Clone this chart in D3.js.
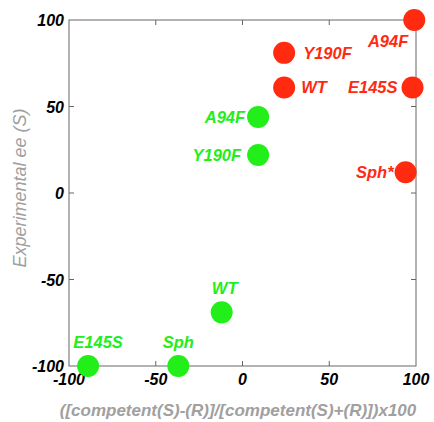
<!DOCTYPE html>
<html>
<head>
<meta charset="utf-8">
<script src="https://d3js.org/d3.v7.min.js"></script>
<style>
  body { margin: 0; background: #fff; }
  text { font-family: "Liberation Sans", Arial, sans-serif; }
</style>
</head>
<body>
<svg width="434" height="422"></svg>
<script>
// data
var redLabels = ["A94F", "Y190F", "WT", "E145S", "Sph*"];
var redX = [99, 24, 24, 98, 94];
var redY = [100, 81, 61, 61, 12];

var greenLabels = ["A94F", "Y190F", "WT", "Sph", "E145S"];
var greenX = [9, 9, -12, -37, -89];
var greenY = [44, 22, -69, -100, -100];

var tickVals = [-100, -50, 0, 50, 100];

var svg = d3.select("svg"),
    pLeft = 69, pRight = 416, pTop = 20, pBottom = 366;

var x = d3.scaleLinear().domain([-100, 100]).range([pLeft, pRight]);
var y = d3.scaleLinear().domain([-100, 100]).range([pBottom, pTop]);

// frame
svg.append("rect")
   .attr("x", pLeft).attr("y", pTop)
   .attr("width", pRight - pLeft).attr("height", pBottom - pTop)
   .attr("fill", "none").attr("stroke", "#666").attr("stroke-width", 1);

// inward ticks on all four sides
var inner = [-50, 0, 50];
inner.forEach(function(v) {
  svg.append("line").attr("x1", x(v)).attr("x2", x(v)).attr("y1", pBottom).attr("y2", pBottom - 5).attr("stroke", "#666");
  svg.append("line").attr("x1", x(v)).attr("x2", x(v)).attr("y1", pTop).attr("y2", pTop + 5).attr("stroke", "#666");
  svg.append("line").attr("y1", y(v)).attr("y2", y(v)).attr("x1", pLeft).attr("x2", pLeft + 5).attr("stroke", "#666");
  svg.append("line").attr("y1", y(v)).attr("y2", y(v)).attr("x1", pRight).attr("x2", pRight - 5).attr("stroke", "#666");
});

// tick labels
svg.selectAll(".xt").data(tickVals).enter().append("text")
   .attr("x", function(d) { return x(d); })
   .attr("y", pBottom + 19)
   .attr("text-anchor", "middle")
   .attr("font-size", "16px").attr("font-weight", "bold").attr("font-style", "italic")
   .text(function(d) { return d; });

svg.selectAll(".yt").data(tickVals).enter().append("text")
   .attr("x", pLeft - 5)
   .attr("y", function(d) { return y(d) + 6; })
   .attr("text-anchor", "end")
   .attr("font-size", "16px").attr("font-weight", "bold").attr("font-style", "italic")
   .text(function(d) { return d; });

// axis titles
svg.append("text")
   .attr("x", 238).attr("y", 416)
   .attr("text-anchor", "middle")
   .attr("font-size", "17px").attr("font-weight", "bold").attr("font-style", "italic")
   .attr("fill", "#a0a0a0")
   .text("([competent(S)-(R)]/[competent(S)+(R)])x100");

svg.append("text")
   .attr("transform", "translate(26,188) rotate(-90)")
   .attr("text-anchor", "middle")
   .attr("font-size", "18px").attr("font-style", "italic")
   .attr("fill", "#a0a0a0")
   .text("Experimental ee (S)");

var red = "#ff2a10", green = "#22ee1a";

var redData = redLabels.map(function(l, i) { return {label: l, x: redX[i], y: redY[i]}; });
var greenData = greenLabels.map(function(l, i) { return {label: l, x: greenX[i], y: greenY[i]}; });

svg.selectAll(".red").data(redData).enter().append("circle")
   .attr("cx", function(d) { return x(d.x); })
   .attr("cy", function(d) { return y(d.y); })
   .attr("r", 11).attr("fill", red);

svg.selectAll(".green").data(greenData).enter().append("circle")
   .attr("cx", function(d) { return x(d.x); })
   .attr("cy", function(d) { return y(d.y); })
   .attr("r", 11).attr("fill", green);

// label placement: dx, dy, anchor
var redPos = {
  "A94F": [-6, 27, "end"],
  "Y190F": [19, 6, "start"],
  "WT": [17, 6, "start"],
  "E145S": [-15, 6, "end"],
  "Sph*": [-12, 6, "end"]
};
var greenPos = {
  "A94F": [-13, 6, "end"],
  "Y190F": [-17, 6, "end"],
  "WT": [3, -18, "middle"],
  "Sph": [0, -18, "middle"],
  "E145S": [10, -18, "middle"]
};

svg.selectAll(".rl").data(redData).enter().append("text")
   .attr("x", function(d) { return x(d.x) + redPos[d.label][0]; })
   .attr("y", function(d) { return y(d.y) + redPos[d.label][1]; })
   .attr("text-anchor", function(d) { return redPos[d.label][2]; })
   .attr("font-size", "16.5px").attr("font-weight", "bold").attr("font-style", "italic")
   .attr("fill", red)
   .text(function(d) { return d.label; });

svg.selectAll(".gl").data(greenData).enter().append("text")
   .attr("x", function(d) { return x(d.x) + greenPos[d.label][0]; })
   .attr("y", function(d) { return y(d.y) + greenPos[d.label][1]; })
   .attr("text-anchor", function(d) { return greenPos[d.label][2]; })
   .attr("font-size", "16.5px").attr("font-weight", "bold").attr("font-style", "italic")
   .attr("fill", green)
   .text(function(d) { return d.label; });
</script>
</body>
</html>
